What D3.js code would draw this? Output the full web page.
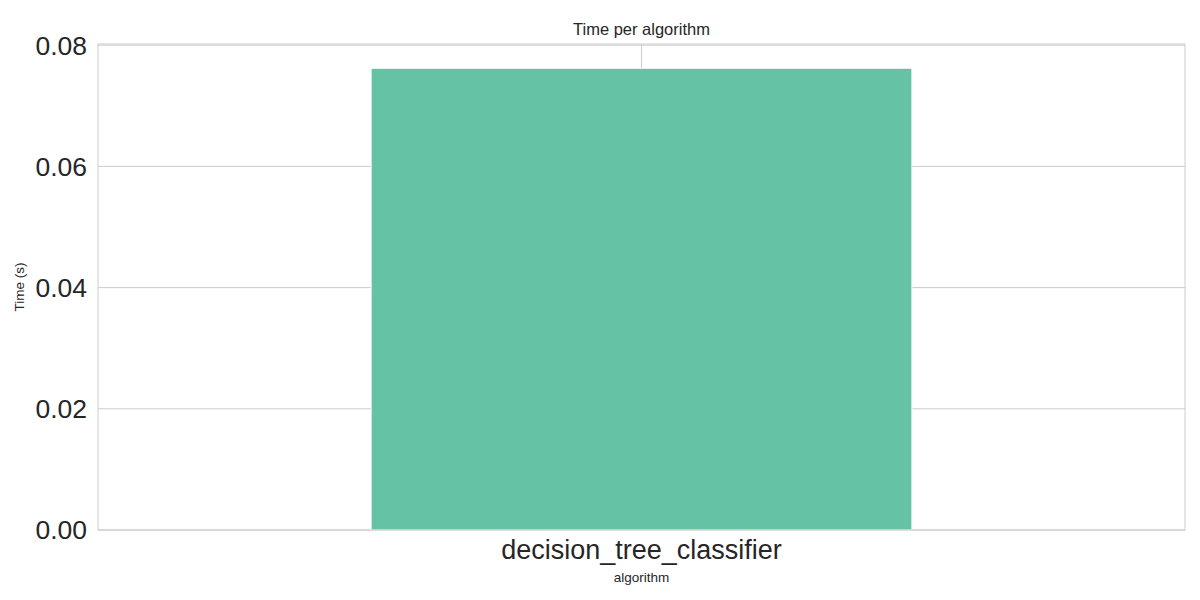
<!DOCTYPE html>
<html>
<head>
<meta charset="UTF-8">
<script src="https://d3js.org/d3.v7.min.js"></script>
<style>
  body { margin: 0; background: #fff; }
  text { font-family: Arial, "Liberation Sans", sans-serif; fill: #262626; }
</style>
</head>
<body>
<svg id="chart" width="1200" height="600"></svg>
<script>
const algorithms = ["decision_tree_classifier"];
const times = [0.0762];
const yTicks = [0, 0.02, 0.04, 0.06, 0.08];

const svg = d3.select("#chart");
const m = { left: 98, right: 15, top: 44, bottom: 70 };
const w = 1200 - m.left - m.right, h = 600 - m.top - m.bottom;
const g = svg.append("g").attr("transform", `translate(${m.left},${m.top})`);

const x = d3.scaleBand().domain(algorithms).range([0, w]).paddingInner(0).paddingOuter(0.505);
const y = d3.scaleLinear().domain([0, 0.0802]).range([h, 0]);

// grid
g.selectAll(".hgrid").data(yTicks).enter().append("line")
  .attr("x1", 0).attr("x2", w).attr("y1", d => y(d)).attr("y2", d => y(d))
  .attr("stroke", "#cccccc").attr("stroke-width", 1);
g.selectAll(".vgrid").data(algorithms).enter().append("line")
  .attr("x1", d => x(d) + x.bandwidth() / 2).attr("x2", d => x(d) + x.bandwidth() / 2)
  .attr("y1", 0).attr("y2", h).attr("stroke", "#cccccc");

// bars
g.selectAll(".bar").data(times).enter().append("rect")
  .attr("x", (d, i) => x(algorithms[i])).attr("width", x.bandwidth())
  .attr("y", d => y(d)).attr("height", d => h - y(d))
  .attr("fill", "#66c2a5").attr("stroke", "#fff").attr("stroke-width", 1);

// frame
g.append("rect").attr("width", w).attr("height", h)
  .attr("fill", "none").attr("stroke", "#cccccc").attr("stroke-width", 1);

// tick labels
g.selectAll(".ytick").data(yTicks).enter().append("text")
  .attr("x", -11).attr("y", d => y(d)).attr("dy", "0.35em")
  .attr("text-anchor", "end").style("font-size", "26.5px")
  .text(d => d.toFixed(2));
g.selectAll(".xtick").data(algorithms).enter().append("text")
  .attr("x", d => x(d) + x.bandwidth() / 2).attr("y", h + 29)
  .attr("text-anchor", "middle").style("font-size", "27px").text(d => d);

// labels
svg.append("text").attr("x", m.left + w / 2).attr("y", 35)
  .attr("text-anchor", "middle").style("font-size", "16.5px").text("Time per algorithm");
svg.append("text").attr("x", m.left + w / 2).attr("y", 582)
  .attr("text-anchor", "middle").style("font-size", "13.5px").text("algorithm");
svg.append("text").attr("transform", `translate(24,${m.top + h / 2}) rotate(-90)`)
  .attr("text-anchor", "middle").style("font-size", "13.5px").text("Time (s)");
</script>
</body>
</html>
